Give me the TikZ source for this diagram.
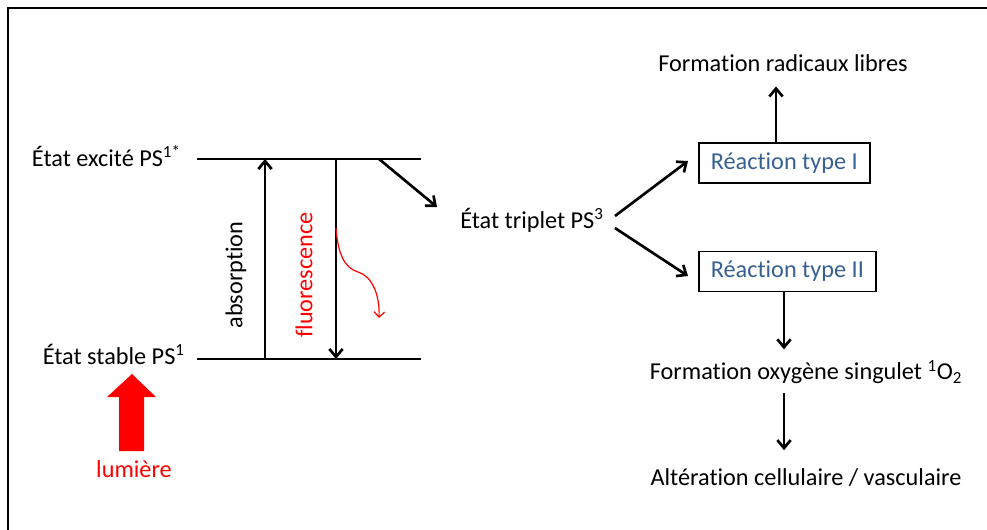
\documentclass[tikz,border=0pt]{standalone}
\usepackage{fontspec}
\setmainfont{Carlito}[Ligatures=NoCommon]
\usetikzlibrary{positioning, arrows.meta}
\definecolor{reacblue}{RGB}{55,96,146}

\begin{document}
\begin{tikzpicture}[
        x=0.75pt, y=-0.75pt,
        font=\fontsize{18.2}{21}\selectfont,
        lbl/.style = {inner sep=0pt},
        box/.style = {rectangle, draw, line width=1.2pt, text=reacblue, minimum height=30pt, inner xsep=9pt, anchor=west},
        lvl/.style = {line width=2.2pt},
        arr/.style = {-{Straight Barb[length=6pt, width=10pt]}, line width=2pt}
    ]
        \useasboundingbox (0,0) rectangle (987,529);
        % Frame
        \draw[line width=1.5pt] (7.5,560) |- (1010,8);

        % Energy levels
        \node[lbl, anchor=east] (excite) at (181,156) {État excité PS\textsuperscript{1*}};
        \node[lbl, anchor=east] (stable) at (185,354) {État stable PS\textsuperscript{1}};
        \coordinate (s1a) at (197,159);
        \coordinate (s1b) at (421,159);
        \coordinate (s0a) at (197,359);
        \coordinate (s0b) at (421,359);
        \draw[lvl] (s1a) -- (s1b);
        \draw[lvl] (s0a) -- (s0b);

        % Absorption and fluorescence
        \coordinate (absx) at (265,0);
        \coordinate (flux) at (336,0);
        \node[lbl, rotate=90] (absorption) at (236,275) {absorption};
        \node[lbl, rotate=90, text=red] (fluo) at (304,275) {fluorescence};
        \draw[arr] (s0a -| absx) -- (s1a -| absx);
        \draw[arr] (s1a -| flux) -- (s0a -| flux);
        \coordinate (wave0) at (336,228);
        \coordinate (wave1) at (379,318);
        \draw[red, line width=0.9pt, -{Straight Barb[length=4pt, width=8pt]}]
            (wave0) .. controls (338,255) and (345,268) .. (358,272)
            .. controls (372,276) and (380,295) .. (wave1);

        % Inter-system crossing
        \node[lbl, anchor=west] (triplet) at (460,220) {État triplet PS\textsuperscript{3}};
        \coordinate (isc0) at (379,159);
        \coordinate (isc1) at (437,207);
        \draw[arr] (isc0) -- (isc1);

        % Reactions
        \node[box] (typeI) at (698,163) {Réaction type I};
        \node[box] (typeII) at (698,271.5) {Réaction type II};
        \draw[arr] ([shift={(11,-4)}]triplet.east) -- ([shift={(-10,-2)}]typeI.west);
        \draw[arr] ([shift={(11,8)}]triplet.east) -- ([shift={(-10,4.5)}]typeII.west);

        \node[lbl] (radicaux) at (783,63) {Formation radicaux libres};
        \node[lbl] (oxygene) at (806,372) {Formation oxygène singulet \textsuperscript{1}O\textsubscript{2}};
        \node[lbl] (alteration) at (806,478) {Altération cellulaire / vasculaire};
        \coordinate (upx) at (776,0);
        \coordinate (dnx) at (784,0);
        \draw[arr, shorten >=11pt] (typeI.north -| upx) -- (radicaux.south -| upx);
        \draw[arr, shorten >=8pt] (typeII.south -| dnx) -- (oxygene.north -| dnx);
        \draw[arr, shorten <=7pt, shorten >=14pt] (oxygene.south -| dnx) -- (alteration.north -| dnx);

        % Light
        \node[lbl, text=red] (lumiere) at (134,469) {lumière};
        \fill[red] (132,374) -- (156,397) -- (144,397) -- (144,451)
            -- (119,451) -- (119,397) -- (107,397) -- cycle;
    \end{tikzpicture}
\end{document}
